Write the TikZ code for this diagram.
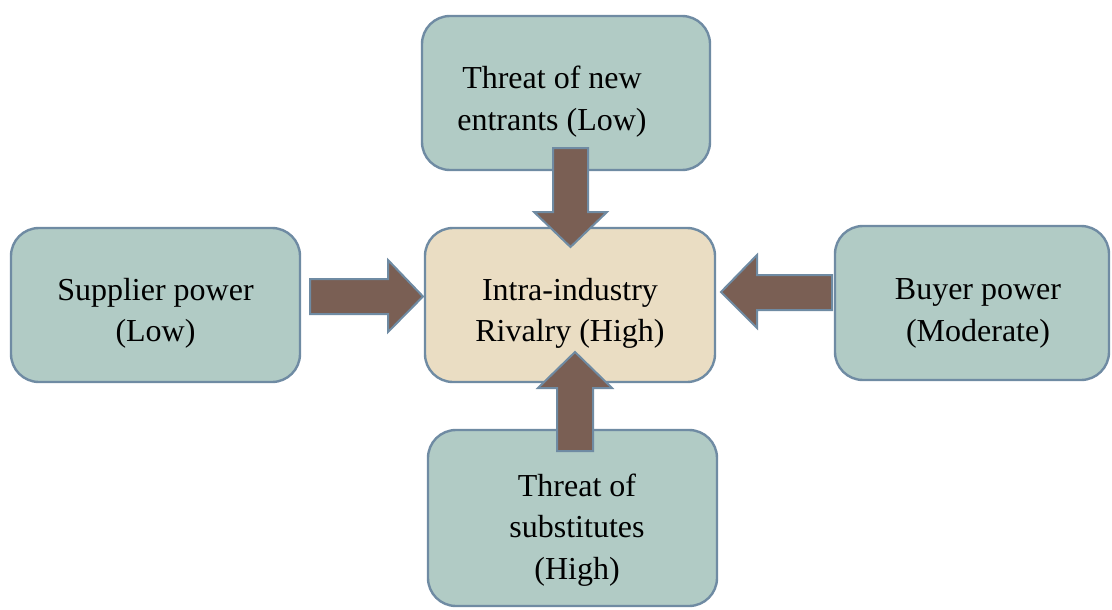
\documentclass[tikz,border=0pt]{standalone}
\usepackage{fontspec}
\setmainfont{Liberation Serif}
\newfontfamily\tnrfont{Liberation Serif}
\definecolor{boxfill}{HTML}{B1CBC5}
\definecolor{centfill}{HTML}{EADDC3}
\definecolor{edgecol}{HTML}{6F8BA3}
\definecolor{arrfill}{HTML}{7A5F54}
\begin{document}
\begin{tikzpicture}[x=1pt,y=-1pt,
  forcebox/.style={draw=edgecol, line width=2.4pt, fill=boxfill, rounded corners=28pt, inner sep=0pt},
  rivalbox/.style={forcebox, fill=centfill},
  label text/.style={inner sep=0pt, align=center, font=\tnrfont\fontsize{32}{41.5}\selectfont},
  blockarrow/.style={draw=edgecol, line width=2pt, fill=arrfill, line join=miter}]
\useasboundingbox (0,0) rectangle (1112,610);
% boxes
\node[forcebox, minimum width=288pt, minimum height=154pt] (entr) at (566,93) {};
\node[forcebox, minimum width=289pt, minimum height=154pt] (supp) at (155.5,305) {};
\node[rivalbox, minimum width=290pt, minimum height=154pt] (rival) at (570,305) {};
\node[forcebox, minimum width=274pt, minimum height=154pt] (buyer) at (972,303) {};
\node[forcebox, minimum width=289pt, minimum height=176pt] (subst) at (572.5,518) {};
% texts
\node[label text] (entrT) at (552,101.5) {Threat of new\\entrants (Low)};
\node[label text] (suppT) at (155.5,313.5) {Supplier power\\(Low)};
\node[label text] (rivalT) at (570,313.5) {Intra-industry\\Rivalry (High)};
\node[label text] (buyerT) at (978,313.5) {Buyer power\\(Moderate)};
\node[label text] (substT) at (577,530) {Threat of\\substitutes\\(High)};
% block arrows
\draw[blockarrow] (553,148) -- (588,148) -- (588,212) -- (607,212) -- (570.5,247) -- (534,212) -- (553,212) -- cycle;
\draw[blockarrow] (310,279) -- (388,279) -- (388,260) -- (423,296.5) -- (388,332) -- (388,314) -- (310,314) -- cycle;
\draw[blockarrow] (832,275) -- (757,275) -- (757,255) -- (721,292) -- (757,328) -- (757,310) -- (832,310) -- cycle;
\draw[blockarrow] (557,451) -- (593,451) -- (593,388) -- (612,388) -- (575,352) -- (538,388) -- (557,388) -- cycle;
\end{tikzpicture}
\end{document}
